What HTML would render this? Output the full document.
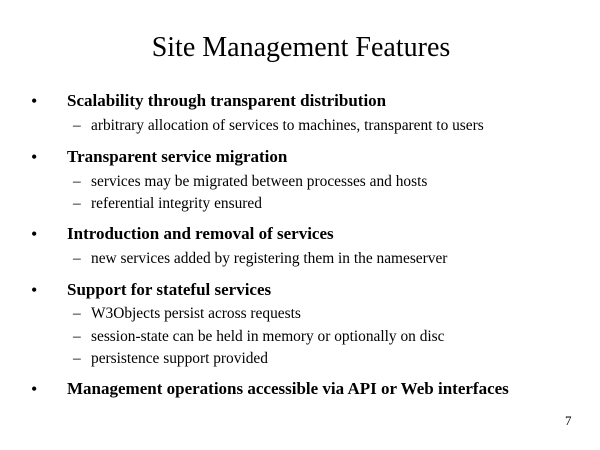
<!DOCTYPE html>
<html><head><meta charset="utf-8"><style>
html,body{margin:0;padding:0;background:#fff;}
body{width:600px;height:450px;position:relative;overflow:hidden;font-family:"Liberation Serif",serif;color:#000;}
.t{position:absolute;white-space:nowrap;}
.b{font-size:17px;line-height:18px;font-weight:bold;}
.d{font-size:18px;line-height:18px;}
.s{font-size:15.4px;line-height:15px;}
</style></head><body>
<div class="t" style="left:1px;width:600px;text-align:center;top:32px;font-size:28px;line-height:32px;">Site Management Features</div>

<div class="t d" style="left:31px;top:92px;">•</div>
<div class="t b" style="left:67px;top:92px;">Scalability through transparent distribution</div>
<div class="t s" style="left:73px;top:118px;">–</div>
<div class="t s" style="left:91px;top:118px;">arbitrary allocation of services to machines, transparent to users</div>

<div class="t d" style="left:31px;top:148px;">•</div>
<div class="t b" style="left:67px;top:148px;">Transparent service migration</div>
<div class="t s" style="left:73px;top:174px;">–</div>
<div class="t s" style="left:91px;top:174px;">services may be migrated between processes and hosts</div>
<div class="t s" style="left:73px;top:196px;">–</div>
<div class="t s" style="left:91px;top:196px;">referential integrity ensured</div>

<div class="t d" style="left:31px;top:225px;">•</div>
<div class="t b" style="left:67px;top:225px;">Introduction and removal of services</div>
<div class="t s" style="left:73px;top:251px;">–</div>
<div class="t s" style="left:91px;top:251px;">new services added by registering them in the nameserver</div>

<div class="t d" style="left:31px;top:281px;">•</div>
<div class="t b" style="left:67px;top:281px;">Support for stateful services</div>
<div class="t s" style="left:73px;top:306px;">–</div>
<div class="t s" style="left:91px;top:306px;">W3Objects persist across requests</div>
<div class="t s" style="left:73px;top:329px;">–</div>
<div class="t s" style="left:91px;top:329px;">session-state can be held in memory or optionally on disc</div>
<div class="t s" style="left:73px;top:351px;">–</div>
<div class="t s" style="left:91px;top:351px;">persistence support provided</div>

<div class="t d" style="left:31px;top:380px;">•</div>
<div class="t b" style="left:67px;top:380px;">Management operations accessible via API or Web interfaces</div>

<div class="t" style="left:565px;top:414px;font-size:13px;line-height:14px;">7</div>
</body></html>
